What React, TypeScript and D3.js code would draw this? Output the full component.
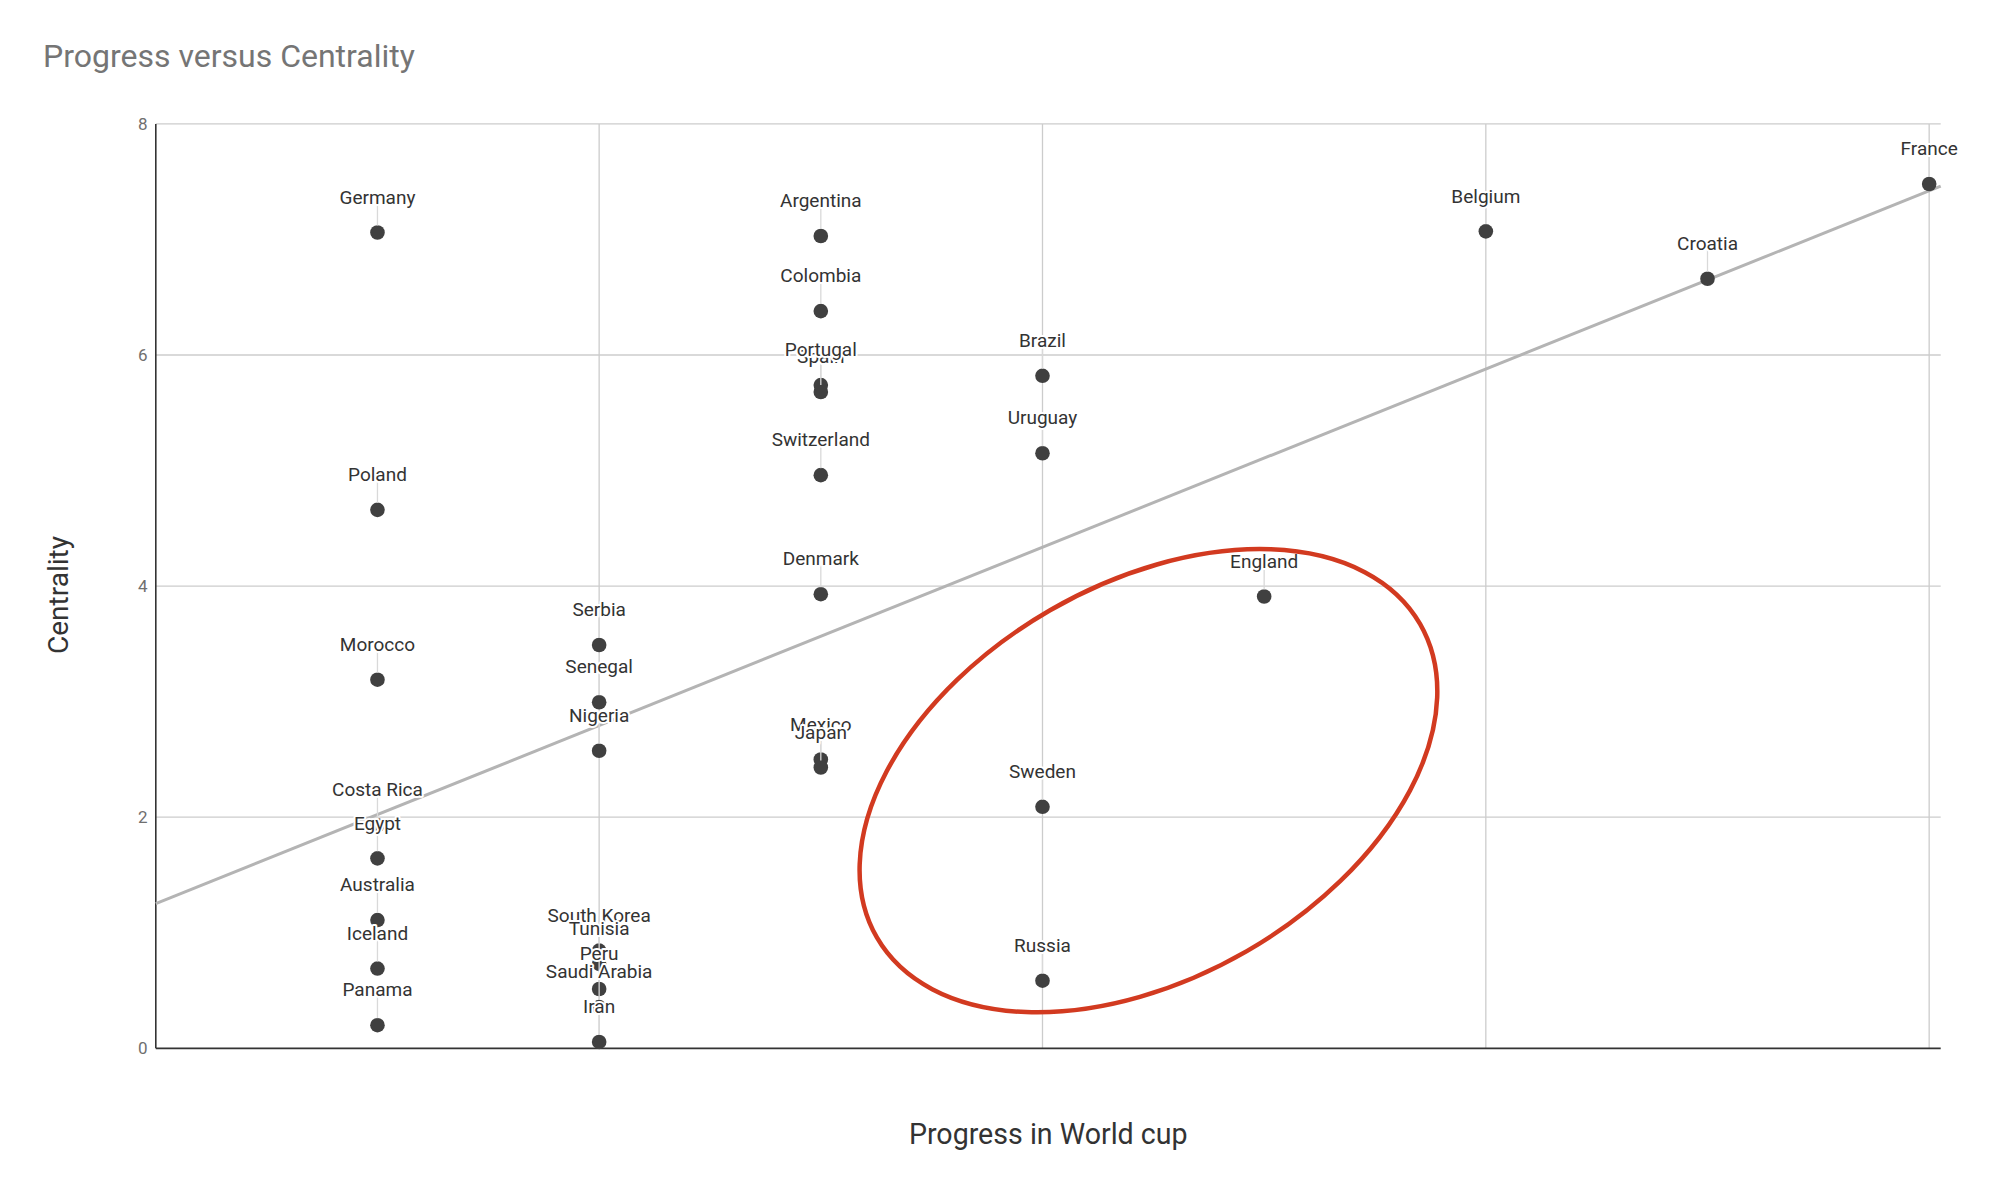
import React from "react";
import * as d3 from "d3";

// ---- data ----
const countries = [
  "France", "Croatia", "Belgium", "England",
  "Brazil", "Uruguay", "Sweden", "Russia",
  "Spain", "Portugal", "Argentina", "Colombia", "Switzerland", "Denmark", "Mexico", "Japan",
  "Germany", "Poland", "Morocco", "Costa Rica", "Egypt", "Australia", "Iceland", "Panama",
  "Serbia", "Senegal", "Nigeria", "South Korea", "Tunisia", "Peru", "Saudi Arabia", "Iran",
];
const progress = [
  8, 7, 6, 5,
  4, 4, 4, 4,
  3, 3, 3, 3, 3, 3, 3, 3,
  1, 1, 1, 1, 1, 1, 1, 1,
  2, 2, 2, 2, 2, 2, 2, 2,
];
const centrality = [
  7.48, 6.66, 7.07, 3.91,
  5.82, 5.15, 2.09, 0.585,
  5.68, 5.74, 7.03, 6.38, 4.96, 3.93, 2.5, 2.43,
  7.06, 4.66, 3.19, 1.93, 1.644, 1.11, 0.69, 0.2,
  3.49, 2.995, 2.575, 0.846, 0.73, 0.513, 0.357, 0.055,
];
const yTicks = [0, 2, 4, 6, 8];
const xGrid = [0, 2, 4, 6, 8];
const xDomain = [0, 8.052];
const yDomain = [0, 8];
const title = "Progress versus Centrality";
const xTitle = "Progress in World cup";
const yTitle = "Centrality";
// highlighted region (centre in data units)
const highlightCenter = [4.478, 2.316];

const W = 2002;
const H = 1188;
const left = 155.8, right = 1940.7, top = 123.9, bottom = 1048.3;
const FONT = "Roboto, 'Noto Sans', Arial, sans-serif";

export default function App() {
  const x = d3.scaleLinear().domain(xDomain).range([left, right]);
  const y = d3.scaleLinear().domain(yDomain).range([bottom, top]);

  const n = progress.length;
  const mx = d3.mean(progress) as number;
  const my = d3.mean(centrality) as number;
  let sxy = 0, sxx = 0;
  for (let i = 0; i < n; i++) {
    sxy += (progress[i] - mx) * (centrality[i] - my);
    sxx += (progress[i] - mx) ** 2;
  }
  const slope = sxy / sxx;
  const intercept = my - slope * mx;
  const trend = d3.line<number>()
    .x((v) => x(v))
    .y((v) => y(intercept + slope * v));

  const pts = countries.map((c, i) => ({ c, px: x(progress[i]), py: y(centrality[i]) }));

  return (
    <svg width={W} height={H} style={{ position: "absolute", left: 0, top: 0, display: "block", background: "#fff" }}>
      <rect x={0} y={0} width={W} height={H} fill="#fff" />
      <text x={43} y={67} fontFamily={FONT} fontSize={32} fill="#757575">{title}</text>

      {/* gridlines */}
      {yTicks.filter((t) => t !== 0).map((t) => (
        <line key={"gy" + t} x1={left} x2={right} y1={y(t)} y2={y(t)} stroke="#cccccc" strokeWidth={1.3} />
      ))}
      {xGrid.filter((t) => t !== 0).map((t) => (
        <line key={"gx" + t} x1={x(t)} x2={x(t)} y1={top} y2={bottom} stroke="#cccccc" strokeWidth={1.3} />
      ))}

      {/* y tick labels */}
      {yTicks.map((t) => (
        <text key={"yt" + t} x={147.5} y={y(t)} dy="0.36em" textAnchor="end" fontFamily={FONT} fontSize={17} fill="#6f6f6f">{t}</text>
      ))}

      {/* baselines */}
      <line x1={left} x2={left} y1={top} y2={bottom} stroke="#333" strokeWidth={1.6} />
      <line x1={left} x2={right} y1={bottom} y2={bottom} stroke="#333" strokeWidth={1.8} />

      {/* trendline */}
      <path d={trend([xDomain[0], xDomain[1]]) || ""} fill="none" stroke="#b4b4b4" strokeWidth={3} />

      {/* points */}
      {pts.map((p) => (
        <circle key={"p" + p.c} cx={p.px} cy={p.py} r={7.3} fill="#404040" />
      ))}
      {/* stems */}
      {pts.map((p) => (
        <line key={"s" + p.c} x1={p.px} x2={p.px} y1={p.py - 7} y2={p.py - 34} stroke="#d9d9d9" strokeWidth={1.3} />
      ))}
      {/* labels */}
      {pts.map((p) => (
        <text key={"l" + p.c} x={p.px} y={p.py - 28.8} textAnchor="middle" fontFamily={FONT} fontSize={19}
          fill="#333" stroke="#fff" strokeWidth={4} strokeLinejoin="round" style={{ paintOrder: "stroke" }}>{p.c}</text>
      ))}

      {/* axis titles */}
      <text x={(left + right) / 2} y={1144} textAnchor="middle" fontFamily={FONT} fontSize={28.6} fill="#333">{xTitle}</text>
      <text transform={`translate(68,595) rotate(-90)`} textAnchor="middle" fontFamily={FONT} fontSize={28} fill="#333">{yTitle}</text>

      {/* highlight ellipse */}
      <ellipse cx={0} cy={0} rx={313.6} ry={196.8} fill="none" stroke="#d23a20" strokeWidth={4.5}
        transform={`translate(${x(highlightCenter[0])},${y(highlightCenter[1])}) rotate(-30)`} />
    </svg>
  );
}
